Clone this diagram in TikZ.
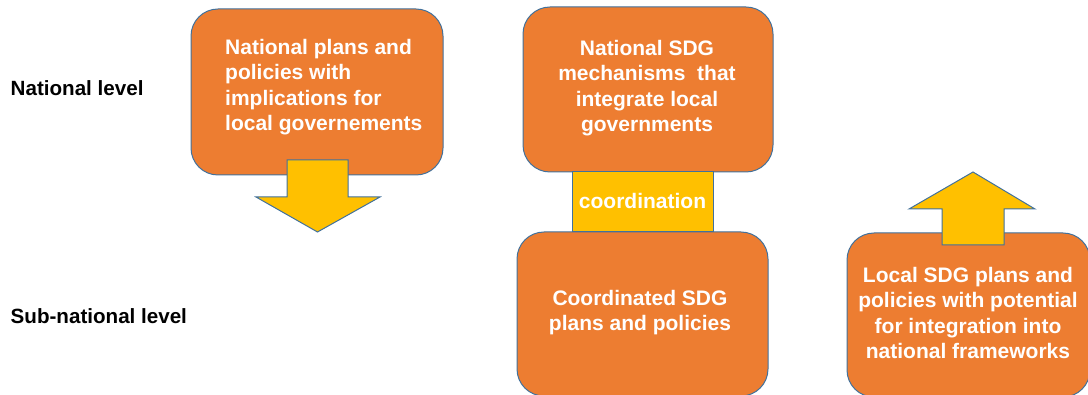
\documentclass[tikz,border=0pt]{standalone}
\usepackage{fontspec}
\setmainfont{Liberation Sans}
\definecolor{boxorange}{HTML}{ED7D31}
\definecolor{edgeblue}{HTML}{41719C}
\definecolor{arrowyellow}{HTML}{FFC000}
\begin{document}
\begin{tikzpicture}[x=1pt,y=-1pt,
  box/.style={draw=edgeblue, line width=1pt, fill=boxorange, rounded corners=27pt, inner sep=0pt},
  boxtext/.style={text=white, font=\fontsize{21}{25.5}\selectfont\bfseries, inner sep=0pt},
  lvl/.style={font=\fontsize{20.6}{24}\selectfont\bfseries, anchor=base west, inner sep=0pt},
  blockarrow/.style={draw=edgeblue, line width=1pt, fill=arrowyellow, line join=miter}]
\useasboundingbox (0,0) rectangle (1088,395);

% level labels
\node[lvl] (natlvl) at (10.5,96) {National level};
\node[lvl] (sublvl) at (10.5,324) {Sub-national level};

% boxes
\node[box, minimum width=252pt, minimum height=166pt] (b1) at (317,92) {};
\node[box, minimum width=250pt, minimum height=165pt] (b2) at (648,89.5) {};
\node[box, minimum width=251pt, minimum height=164pt] (b3) at (642.5,314) {};
\node[box, minimum width=243pt, minimum height=164pt] (b4) at (968.5,315) {};

% coordination rectangle
\node[draw=edgeblue, line width=1pt, fill=arrowyellow, minimum width=141pt, minimum height=60pt, inner sep=0pt,
      text=white, font=\fontsize{21}{25.5}\selectfont\bfseries] (coord) at (642.5,202) {\raisebox{2.5pt}{coordination}};

% block arrows
\draw[blockarrow] (287,160) -- (348,160) -- (348,197) -- (380,197) -- (317.5,232) -- (256,197) -- (287,197) -- cycle;
\draw[blockarrow] (942,245) -- (1004,245) -- (1004,209) -- (1035,209) -- (973,172) -- (909,209) -- (942,209) -- cycle;

% box texts
\node[boxtext, align=left, anchor=west] (t1) at (225,87) {National plans and\\policies with\\implications for\\local governements};
\node[boxtext, align=center] (t2) at (647,88.3) {National SDG\\mechanisms\ \ that\\integrate local\\governments};
\node[boxtext, align=center] (t3) at (640,312.8) {Coordinated SDG\\plans and policies};
\node[boxtext, align=center] (t4) at (968,313) {Local SDG plans and\\policies with potential\\for integration into\\national frameworks};
\end{tikzpicture}
\end{document}
